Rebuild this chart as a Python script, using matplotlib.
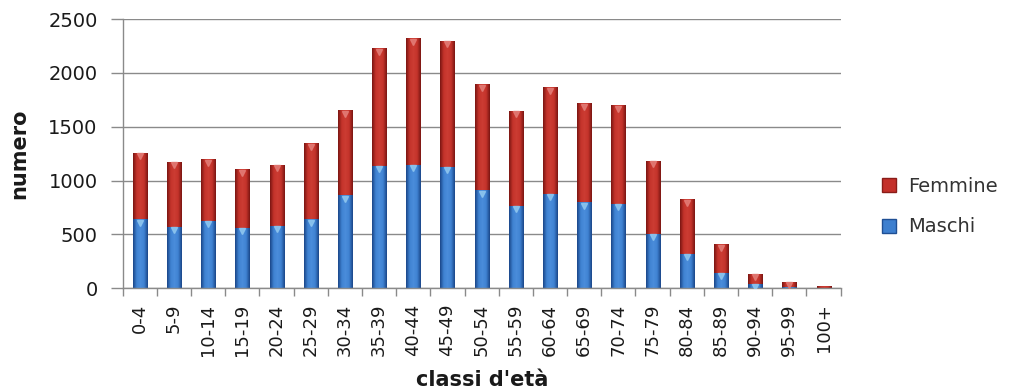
import numpy as np
import matplotlib
matplotlib.use("Agg")
import matplotlib.pyplot as plt
from matplotlib.colors import LinearSegmentedColormap
from matplotlib.patches import Patch
from matplotlib.transforms import offset_copy

# Popolazione per classi d'età
classi = ["0-4", "5-9", "10-14", "15-19", "20-24", "25-29", "30-34", "35-39",
          "40-44", "45-49", "50-54", "55-59", "60-64", "65-69", "70-74",
          "75-79", "80-84", "85-89", "90-94", "95-99", "100+"]
maschi = [643, 572, 625, 560, 581, 643, 866, 1138, 1147, 1126, 909, 764,
          878, 798, 785, 504, 321, 142, 40, 8, 4]
totale = [1256, 1175, 1197, 1104, 1147, 1348, 1652, 2227, 2320, 2298, 1896,
          1648, 1865, 1720, 1698, 1184, 826, 411, 135, 61, 21]
femmine = [t - m for t, m in zip(totale, maschi)]
y_ticks = [0, 500, 1000, 1500, 2000, 2500]

plt.rcParams["font.family"] = ["DejaVu Sans"]

RED_EDGE, RED_MID, RED_TIP = "#7a1512", "#c4332b", "#e27a74"
BLUE_EDGE, BLUE_MID, BLUE_TIP = "#1a4688", "#3f82d2", "#8cc4ee"

cmap_red = LinearSegmentedColormap.from_list(
    "r", [RED_EDGE, RED_MID, "#cc3c33", RED_MID, RED_EDGE])
cmap_blue = LinearSegmentedColormap.from_list(
    "b", [BLUE_EDGE, BLUE_MID, "#4b8ddb", BLUE_MID, BLUE_EDGE])
grad = np.linspace(0, 1, 64).reshape(1, -1)

fig = plt.figure(figsize=(10.14, 3.92), dpi=100)
ax = fig.add_axes([0.121, 0.2645, 0.708, 0.687])

x = np.arange(len(classi))
width = 0.41
b_m = ax.bar(x, maschi, width, color="none", label="Maschi")
b_f = ax.bar(x, femmine, width, bottom=maschi, color="none", label="Femmine")

# cylinder-like shading inside every bar segment
for bars, cmap in ((b_m, cmap_blue), (b_f, cmap_red)):
    for p in bars:
        x0, y0 = p.get_x(), p.get_y()
        w, h = p.get_width(), p.get_height()
        if h <= 0:
            continue
        im = ax.imshow(grad, cmap=cmap, aspect="auto",
                       extent=[x0, x0 + w, y0, y0 + h], zorder=2)
        im.set_clip_path(p)

# light caps just below the top of each segment
cap_tr = offset_copy(ax.transData, fig=fig, x=0, y=-2.5, units="points")
ax.plot(x[:-2], maschi[:-2], linestyle="none", marker="v", markersize=4,
        color=BLUE_TIP, transform=cap_tr, zorder=3, alpha=0.9)
ax.plot(x[:-1], totale[:-1], linestyle="none", marker="v", markersize=4,
        color=RED_TIP, transform=cap_tr, zorder=3, alpha=0.9)

ax.set_xlim(-0.5, len(classi) - 0.5)
ax.set_ylim(0, 2500)
ax.set_yticks(y_ticks)
ax.set_xticks(x)
ax.set_xticklabels(classi, rotation=90)
ax.set_xticks(np.arange(-0.5, len(classi)), minor=True)

ax.grid(axis="y", color="#8a8a8a", linewidth=1.0, zorder=0)
ax.set_axisbelow(True)
for s in ("top", "right"):
    ax.spines[s].set_visible(False)
for s in ("left", "bottom"):
    ax.spines[s].set_color("#8a8a8a")
    ax.spines[s].set_linewidth(1.0)

ax.tick_params(axis="y", length=9, width=1.0, color="#8a8a8a", pad=9,
               labelsize=14, labelcolor="#1a1a1a")
ax.tick_params(axis="x", which="major", length=0, pad=11,
               labelsize=13, labelcolor="#1a1a1a")
ax.tick_params(axis="x", which="minor", length=6, width=1.0,
               color="#8a8a8a", direction="out")

ax.set_ylabel("numero", fontsize=15, fontweight="bold", color="#1a1a1a",
              labelpad=14)
fig.text(0.4755, 0.03, "classi d'età", fontsize=15, fontweight="bold",
         color="#1a1a1a", ha="center", va="center")

handles = [Patch(facecolor="#c4302a", edgecolor="#8a1c18", label="Femmine"),
           Patch(facecolor="#3d7fcf", edgecolor="#1f4f94", label="Maschi")]
fig.legend(handles=handles, loc="center left", bbox_to_anchor=(0.862, 0.473),
           frameon=False, fontsize=14, handlelength=0.75, handleheight=0.75,
           handletextpad=0.6, labelspacing=1.12, borderaxespad=0,
           labelcolor="#333333")

fig.savefig("out.png", dpi=100)
